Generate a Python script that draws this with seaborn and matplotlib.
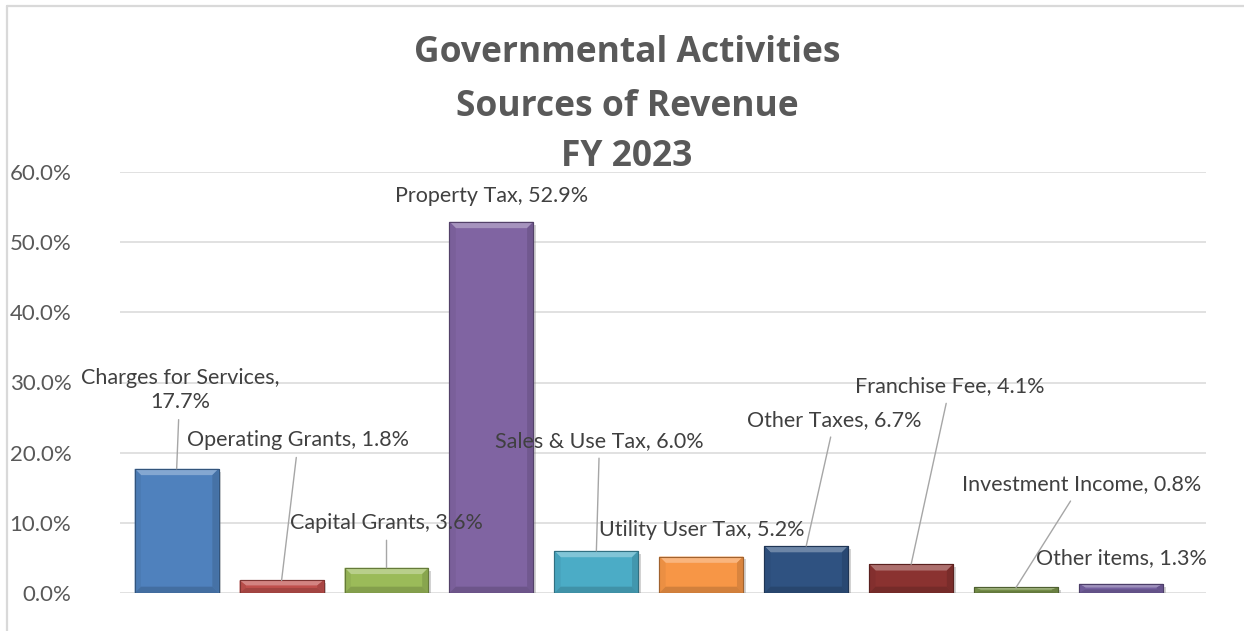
import numpy as np
import pandas as pd
import matplotlib
matplotlib.use("Agg")
import matplotlib.pyplot as plt
import matplotlib.patheffects as pe
from matplotlib.patches import Polygon
from matplotlib.lines import Line2D
from matplotlib.ticker import PercentFormatter
from matplotlib.colors import to_rgb
import seaborn as sns

# Revenue sources, share of total (%)
categories = [
    "Charges for Services", "Operating Grants", "Capital Grants", "Property Tax",
    "Sales & Use Tax", "Utility User Tax", "Other Taxes", "Franchise Fee",
    "Investment Income", "Other items",
]
values = [17.7, 1.8, 3.6, 52.9, 6.0, 5.2, 6.7, 4.1, 0.8, 1.3]
bar_colors = [
    "#4F81BD", "#C0504D", "#9BBB59", "#8064A2", "#4BACC6",
    "#F79646", "#2F5281", "#8A3230", "#78924A", "#7560A0",
]
title_lines = ["Governmental Activities", "Sources of Revenue", "FY 2023"]

# Data-label placement (category units, percent) and which labels get a leader line
label_pos = [
    (0.03, 28.9), (1.16, 21.8), (2.0, 10.0), (3.0, 56.6), (4.03, 21.7),
    (5.0, 9.0), (6.27, 24.7), (7.37, 29.5), (8.62, 15.5), (9.0, 5.0),
]
leader = [True, True, True, False, True, False, True, True, True, False]
wrap_label = [True] + [False] * 9

df = pd.DataFrame({"category": categories, "value": values})

sns.set_theme(style="white")
plt.rcParams["font.family"] = ["Lato", "DejaVu Sans"]

W, H = 1244, 631
fig = plt.figure(figsize=(W / 100, H / 100), dpi=100)
ax = fig.add_axes([120 / W, 1 - 593 / H, (1206 - 120) / W, (593 - 172) / H])

sns.barplot(
    data=df, x="category", y="value", hue="category", palette=bar_colors,
    saturation=1, width=0.8, legend=False, ax=ax, zorder=2,
)


def mix(c, other, t):
    a = np.array(to_rgb(c))
    b = np.array(to_rgb(other))
    return tuple(a * (1 - t) + b * t)


# Bevelled look on each bar
for patch, col in zip(ax.patches, bar_colors):
    x0, w, h = patch.get_x(), patch.get_width(), patch.get_height()
    x1 = x0 + w
    patch.set_edgecolor(mix(col, "black", 0.35))
    patch.set_linewidth(0.8)
    patch.set_path_effects([
        pe.SimplePatchShadow(offset=(2, -2), shadow_rgbFace="#808080", alpha=0.35),
        pe.Normal(),
    ])
    bx = 0.06
    by = min(0.9, h * 0.4)
    pieces = [
        ([(x0, h), (x1, h), (x1 - bx, h - by), (x0 + bx, h - by)], mix(col, "white", 0.3)),
        ([(x0, 0), (x0, h), (x0 + bx, h - by), (x0 + bx, by)], mix(col, "black", 0.05)),
        ([(x1, 0), (x1, h), (x1 - bx, h - by), (x1 - bx, by)], mix(col, "black", 0.12)),
        ([(x0, 0), (x1, 0), (x1 - bx, by), (x0 + bx, by)], mix(col, "black", 0.15)),
    ]
    for pts, fc in pieces:
        ax.add_patch(Polygon(pts, closed=True, facecolor=fc, edgecolor="none", zorder=3))
    ax.add_patch(Polygon([(x0, 0), (x1, 0), (x1, h), (x0, h)], closed=True,
                         facecolor="none", edgecolor=mix(col, "black", 0.35),
                         linewidth=0.8, zorder=4))

# Data labels
for i, (cat, val) in enumerate(zip(categories, values)):
    sep = ",\n" if wrap_label[i] else ", "
    text = f"{cat}{sep}{val:.1f}%"
    tx, ty = label_pos[i]
    arrow = dict(arrowstyle="-", color="#A6A6A6", lw=1.0, shrinkA=3, shrinkB=0) if leader[i] else None
    ax.annotate(text, xy=(i, val), xytext=(tx, ty), textcoords="data",
                ha="center", va="center", fontsize=15.5, color="#404040",
                arrowprops=arrow, zorder=5, linespacing=1.25)

ax.set_xlim(-0.54, 9.81)
ax.set_ylim(0, 60)
ax.set_yticks(np.arange(0, 61, 10))
ax.yaxis.set_major_formatter(PercentFormatter(decimals=1))
ax.grid(axis="y", color="#D9D9D9", linewidth=1.1)
ax.grid(axis="x", visible=False)
ax.set_axisbelow(True)
ax.set_xticks([])
ax.set_xlabel("")
ax.set_ylabel("")
ax.tick_params(axis="y", length=0, pad=35, labelsize=16, labelcolor="#595959")
for s in ax.spines.values():
    s.set_visible(False)

# Title
for line, py in zip(title_lines, [53, 107, 157]):
    fig.text(627 / W, 1 - py / H, line, ha="center", va="center",
             fontsize=25.5, fontweight="bold", color="#595959",
             family=["Open Sans", "DejaVu Sans"])

# Chart-area border (top and left edges)
fig.add_artist(Line2D([6.5 / W, 1.0], [1 - 5.5 / H, 1 - 5.5 / H], color="#D9D9D9", lw=1.6))
fig.add_artist(Line2D([6.5 / W, 6.5 / W], [0, 1 - 5.5 / H], color="#D9D9D9", lw=1.6))

fig.savefig("out.png", dpi=100)
